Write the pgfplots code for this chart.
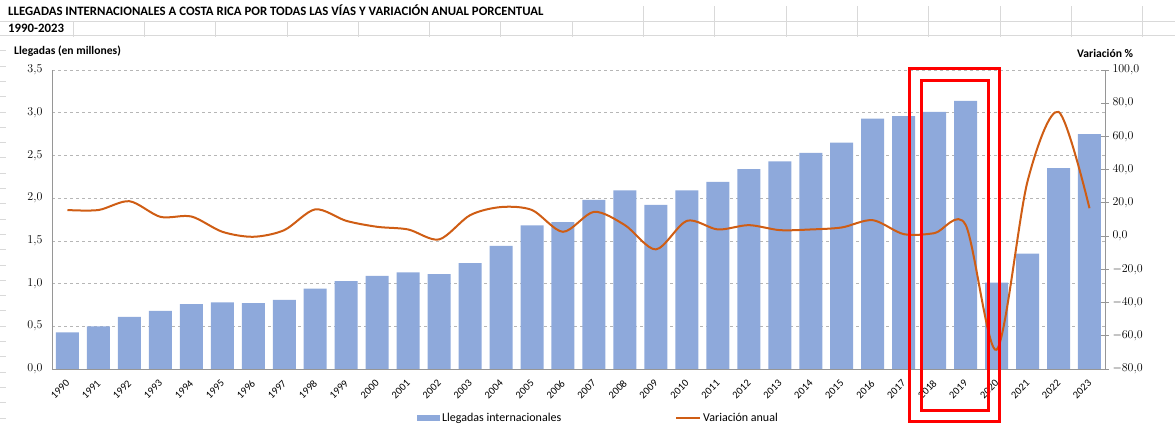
\documentclass[border=0pt]{standalone}
\usepackage{pgfplots}
\pgfplotsset{compat=1.18}
\usepackage{pgfplotstable}
\usepackage{fontspec}
\setmainfont{Carlito}
\definecolor{barc}{RGB}{142,169,219}
\definecolor{linec}{RGB}{207,93,20}
\definecolor{gridc}{RGB}{150,150,150}
\definecolor{sheet}{RGB}{217,217,217}

\pgfplotstableread{
x year llegadas var
0 1990 0.43 15.7
1 1991 0.50 15.7
2 1992 0.61 21.0
3 1993 0.68 11.6
4 1994 0.76 11.8
5 1995 0.78 2.6
6 1996 0.77 -0.4
7 1997 0.81 3.6
8 1998 0.94 16.1
9 1999 1.03 9.2
10 2000 1.09 5.6
11 2001 1.13 4.0
12 2002 1.11 -2.0
13 2003 1.24 12.6
14 2004 1.44 17.5
15 2005 1.68 15.7
16 2006 1.72 2.6
17 2007 1.98 14.6
18 2008 2.09 6.6
19 2009 1.92 -8.0
20 2010 2.09 9.2
21 2011 2.19 4.0
22 2012 2.34 6.6
23 2013 2.43 3.6
24 2014 2.53 4.0
25 2015 2.65 5.2
26 2016 2.93 9.6
27 2017 2.96 1.2
28 2018 3.01 1.8
29 2019 3.14 6.8
30 2020 1.01 -68.4
31 2021 1.35 33.0
32 2022 2.35 74.8
33 2023 2.75 16.8
}\datatable

\begin{document}
\begin{tikzpicture}
\path[use as bounding box] (0pt,0pt) rectangle (1175pt,428pt);
% spreadsheet grid
\draw[sheet, line width=0.8pt] (0pt,407pt) -- (1175pt,407pt);
\draw[sheet, line width=1pt] (0pt,392pt) -- (1175pt,392pt);
\foreach \xx in {73,144.3,215.6,286.9,358.2,429.5,500.8,572.1,643.4,714.7,786,857.3,928.6,999.9,1071.2,1142.5}
  \draw[sheet, line width=0.8pt] (\xx pt,391pt) -- (\xx pt,407pt);
\foreach \xx in {643.4,714.7,786,857.3,928.6,999.9,1071.2,1142.5}
  \draw[sheet, line width=0.8pt] (\xx pt,407pt) -- (\xx pt,422pt);
\foreach \yy in {10,25.3,...,385}
  \draw[sheet, line width=0.8pt] (0pt,\yy pt) -- (6pt,\yy pt);

\node[anchor=base west, inner sep=0, font=\bfseries\fontsize{12.8}{14}\selectfont] at (8pt,412pt) {LLEGADAS INTERNACIONALES A COSTA RICA POR TODAS LAS VÍAS Y VARIACIÓN ANUAL PORCENTUAL};
\node[anchor=base west, inner sep=0, font=\bfseries\fontsize{12.8}{14}\selectfont] at (8pt,395pt) {1990-2023};
\node[anchor=base west, inner sep=0, font=\bfseries\fontsize{11.6}{13}\selectfont] at (14pt,373pt) {Llegadas (en millones)};
\node[anchor=base west, inner sep=0, font=\bfseries\fontsize{11.6}{13}\selectfont] at (1077pt,370pt) {Variación \%};

\begin{axis}[
  at={(52pt,59pt)}, anchor=south west, scale only axis,
  width=1053pt, height=299pt,
  xmin=-0.5, xmax=33.5, ymin=0, ymax=3.5,
  axis x line*=bottom, axis y line*=left,
  axis line style={gridc, -, line width=0.8pt},
  ytick={0,0.5,...,3.5},
  ymajorgrids, grid style={dashed, gridc!70, line width=0.5pt},
  major tick length=0pt,
  xtick={0,...,33},
  xticklabels={1990,1991,1992,1993,1994,1995,1996,1997,1998,1999,2000,2001,2002,2003,2004,2005,2006,2007,2008,2009,2010,2011,2012,2013,2014,2015,2016,2017,2018,2019,2020,2021,2022,2023},
  xticklabel shift=12pt,
  xticklabel style={xshift=1pt, rotate=45, anchor=east, font=\fontsize{10.5}{12}\selectfont, inner sep=1pt},
  yticklabel={\pgfmathprintnumber[fixed,fixed zerofill,precision=1,use comma]{\tick}},
  yticklabel style={font=\fontsize{11.5}{13}\selectfont, xshift=-6pt},
  legend columns=2,
  legend cell align=left,
  legend style={draw=none, fill=none, at={([yshift=-49pt]axis description cs:0.519,0)}, anchor=center,
    font=\fontsize{12}{14}\selectfont,
    /tikz/every even column/.append style={column sep=112pt}},
]
\addplot[ybar, fill=barc, draw=none, bar width=23pt,
  legend image code/.code={\fill[barc] (0pt,-3pt) rectangle (23pt,3pt);}]
  table[x=x,y=llegadas]{\datatable};
\addlegendentry{Llegadas internacionales}
\addlegendimage{legend image code/.code={\draw[linec, line width=2pt] (0pt,0pt) -- (24pt,0pt);}}
\addlegendentry{Variación anual}
\end{axis}

\begin{axis}[
  at={(52pt,59pt)}, anchor=south west, scale only axis,
  width=1053pt, height=299pt,
  xmin=-0.5, xmax=33.5, ymin=-80, ymax=100,
  axis x line=none, axis y line*=right,
  axis line style={gridc, -, line width=0.8pt},
  ytick={-80,-60,...,100},
  tick style={gridc, line width=0.8pt}, major tick length=8pt, tick align=center,
  yticklabel={\pgfmathprintnumber[fixed,fixed zerofill,precision=1,use comma]{\tick}},
  yticklabel style={font=\fontsize{11.5}{13}\selectfont},
]
\addplot[linec, line width=2pt, smooth, tension=0.5] table[x=x,y=var]{\datatable};
\end{axis}

\draw[red, line width=3pt] (909pt,6pt) rectangle (999pt,359pt);
\draw[red, line width=3pt] (921pt,17pt) rectangle (988pt,347pt);
\end{tikzpicture}
\end{document}
